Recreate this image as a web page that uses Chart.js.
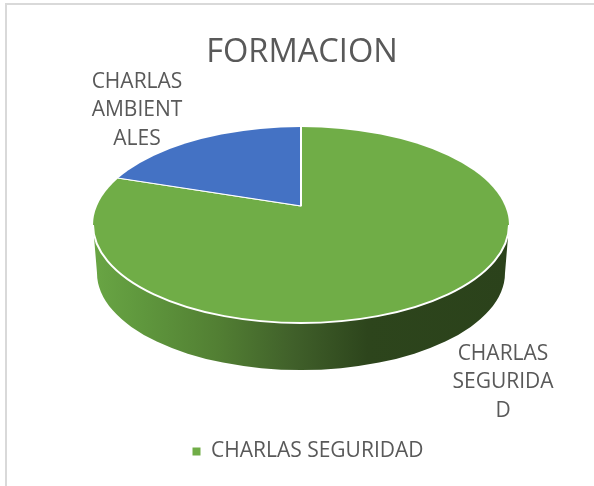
<!DOCTYPE html>
<html>
<head>
<meta charset="utf-8">
<title>FORMACION</title>
<script src="https://cdn.jsdelivr.net/npm/chart.js@4"></script>
<style>
  html, body { margin: 0; padding: 0; background: #ffffff; }
  canvas { display: block; }
</style>
</head>
<body>
<canvas id="formacion" width="594" height="486"></canvas>
<script>
const categories = ["CHARLAS SEGURIDAD", "CHARLAS AMBIENTALES"];
const values = [80, 20];
const colors = ["#70ad47", "#4472c4"];
const seguridadLabel = ["CHARLAS", "SEGURIDA", "D"];
const ambientalesLabel = ["CHARLAS", "AMBIENT", "ALES"];

const textColor = "#595959";
const fontFamily = "'Open Sans', sans-serif";

// pie top as seen in the picture, the apex sits above the ellipse centre
const top3d = { cx: 301, cy: 225, rx: 208, ry: 98, apexY: 206, squash: 0.471 };
const wall = { cy: 273, rx: 204, ry: 97 };

const pie3d = {
  id: "pie3d",
  afterLayout(chart) {
    // legend sits a bit right of the title in the original
    chart.legend.left += 6;
    chart.legend.right += 6;
  },
  beforeDraw(chart) {
    const c = chart.ctx;
    c.save();
    c.strokeStyle = "#d9d9d9";
    c.lineWidth = 2;
    c.beginPath();
    c.moveTo(6, 486);
    c.lineTo(6, 4);
    c.lineTo(594, 4);
    c.stroke();
    c.restore();
  },
  beforeDatasetsDraw(chart) {
    const c = chart.ctx;
    const arc = chart.getDatasetMeta(0).data[0];

    const grad = c.createLinearGradient(top3d.cx - top3d.rx, 0, top3d.cx + top3d.rx, 0);
    grad.addColorStop(0, "#69a544");
    grad.addColorStop(0.12, "#5f973d");
    grad.addColorStop(0.3, "#527f33");
    grad.addColorStop(0.48, "#40602a");
    grad.addColorStop(0.66, "#2d451c");
    grad.addColorStop(1, "#2b421b");

    c.save();
    c.fillStyle = grad;
    c.beginPath();
    c.ellipse(top3d.cx, top3d.cy, top3d.rx, top3d.ry, 0, 0, Math.PI);
    c.ellipse(top3d.cx, wall.cy, wall.rx, wall.ry, 0, Math.PI, 0, true);
    c.closePath();
    c.fill();
    c.restore();

    c.save();
    c.beginPath();
    c.ellipse(top3d.cx, top3d.cy, top3d.rx, top3d.ry, 0, 0, Math.PI * 2);
    c.clip();
    c.translate(top3d.cx, top3d.apexY);
    c.scale(1, top3d.squash);
    c.translate(-arc.x, -arc.y);
  },
  afterDatasetsDraw(chart) {
    const c = chart.ctx;
    c.restore();
    c.save();
    c.strokeStyle = "#ffffff";
    c.lineWidth = 2;
    c.beginPath();
    c.ellipse(top3d.cx, top3d.cy, top3d.rx, top3d.ry, 0, 0, Math.PI);
    c.stroke();
    c.restore();
  },
  afterDraw(chart) {
    const c = chart.ctx;
    c.save();
    c.fillStyle = textColor;
    c.font = "21px " + fontFamily;
    c.textAlign = "center";
    c.textBaseline = "middle";
    ambientalesLabel.forEach((line, i) => c.fillText(line, 137, 82 + i * 28.5));
    seguridadLabel.forEach((line, i) => c.fillText(line, 503, 354 + i * 28.5));
    c.restore();
  }
};

new Chart(document.getElementById("formacion"), {
  type: "pie",
  data: {
    labels: categories,
    datasets: [
      {
        data: values,
        backgroundColor: colors,
        borderColor: "#ffffff",
        borderWidth: 2
      }
    ]
  },
  options: {
    responsive: false,
    animation: false,
    radius: 270,
    layout: { padding: { top: 33, bottom: 14, left: 10 } },
    plugins: {
      title: {
        display: true,
        text: "FORMACION",
        color: textColor,
        font: { family: fontFamily, size: 32.6, weight: "normal" },
        padding: 0
      },
      legend: {
        display: true,
        position: "bottom",
        labels: {
          color: textColor,
          font: { family: fontFamily, size: 21 },
          boxWidth: 8,
          boxHeight: 8,
          padding: 0,
          filter: item => {
            item.lineWidth = 0;
            return item.index === 0;
          }
        }
      },
      tooltip: { enabled: false }
    }
  },
  plugins: [pie3d]
});
</script>
</body>
</html>
